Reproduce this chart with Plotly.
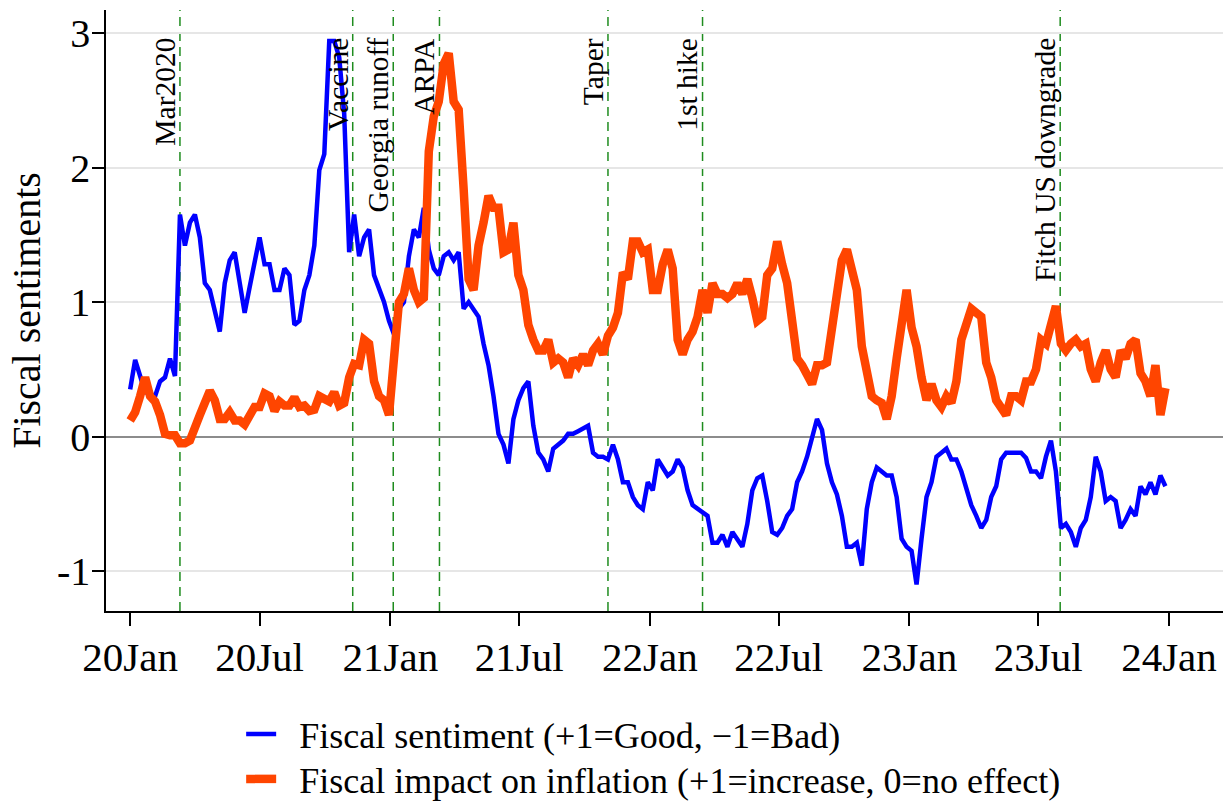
import pandas as pd
import plotly.graph_objects as go

# Weekly observations, first week starting 2020-01-01
dates = pd.date_range("2020-01-01", periods=209, freq="7D")

fiscal_sentiment = [
    0.35, 0.57, 0.45, 0.33, 0.32, 0.30, 0.41, 0.44, 0.58, 0.45,
    1.65, 1.42, 1.59, 1.65, 1.48, 1.14, 1.09, 0.92, 0.78, 1.14,
    1.31, 1.37, 1.14, 0.92, 1.11, 1.28, 1.48, 1.28, 1.28, 1.09,
    1.09, 1.25, 1.20, 0.83, 0.86, 1.09, 1.20, 1.42, 1.98, 2.10,
    2.94, 2.94, 2.82, 2.40, 1.37, 1.65, 1.34, 1.48, 1.54, 1.20,
    1.09,
    1.00, 0.86, 0.76, 0.95, 1.00, 1.34, 1.54, 1.48, 1.70, 1.39,
    1.25, 1.20, 1.34, 1.37, 1.31, 1.37, 0.95, 1.00, 0.95, 0.89,
    0.69, 0.53, 0.30, 0.02, -0.06, -0.20, 0.13, 0.27, 0.36, 0.41,
    0.08, -0.12, -0.17, -0.26, -0.09, -0.06, -0.03, 0.02, 0.02, 0.04,
    0.06, 0.08, -0.12, -0.15, -0.15, -0.17, -0.06, -0.17, -0.34, -0.34,
    -0.45,
    -0.51, -0.54, -0.34, -0.40, -0.17, -0.23, -0.29, -0.26, -0.17, -0.23,
    -0.40, -0.51, -0.54, -0.57, -0.59, -0.79, -0.79, -0.73, -0.82, -0.71,
    -0.76, -0.82, -0.65, -0.40, -0.31, -0.29, -0.48, -0.71, -0.73, -0.68,
    -0.59, -0.54, -0.34, -0.26, -0.15, -0.01, 0.13, 0.05, -0.20, -0.34,
    -0.43, -0.59, -0.82, -0.82, -0.79, -0.96, -0.54, -0.34, -0.23, -0.26,
    -0.29, -0.29,
    -0.45, -0.76, -0.82, -0.85, -1.10, -0.76, -0.45, -0.34, -0.15, -0.12,
    -0.09, -0.17, -0.17, -0.26, -0.40, -0.51, -0.59, -0.68, -0.62, -0.45,
    -0.37, -0.17, -0.12, -0.12, -0.12, -0.12, -0.16, -0.26, -0.26, -0.31,
    -0.15, -0.03, -0.26, -0.68, -0.65, -0.71, -0.82, -0.68, -0.62, -0.45,
    -0.15, -0.26, -0.48, -0.45, -0.48, -0.68, -0.62, -0.54, -0.59, -0.37,
    -0.43, -0.34, -0.43, -0.29, -0.37,
]

inflation_impact = [
    0.12, 0.18, 0.30, 0.44, 0.30, 0.26, 0.16, 0.02, 0.01, 0.01,
    -0.05, -0.05, -0.03, 0.05, 0.16, 0.25, 0.34, 0.27, 0.13, 0.13,
    0.18, 0.12, 0.12, 0.09, 0.16, 0.22, 0.22, 0.32, 0.30, 0.19,
    0.26, 0.23, 0.23, 0.29, 0.22, 0.23, 0.19, 0.20, 0.30, 0.27,
    0.26, 0.33, 0.23, 0.25, 0.44, 0.54, 0.53, 0.72, 0.69, 0.41,
    0.30,
    0.27, 0.16, 0.58, 1.00, 1.06, 1.25, 1.09, 1.00, 1.03, 2.12,
    2.38, 2.49, 2.77, 2.85, 2.49, 2.43, 1.84, 1.17, 1.09, 1.42,
    1.59, 1.79, 1.70, 1.70, 1.37, 1.39, 1.59, 1.20, 1.09, 0.83,
    0.72, 0.64, 0.64, 0.72, 0.55, 0.58, 0.55, 0.44, 0.58, 0.53,
    0.61, 0.53, 0.64, 0.69, 0.61, 0.75, 0.81, 0.92, 1.22, 1.17,
    1.45,
    1.45, 1.37, 1.39, 1.09, 1.09, 1.28, 1.39, 1.25, 0.72, 0.61,
    0.72, 0.78, 0.89, 1.09, 0.92, 1.14, 1.06, 1.06, 1.03, 1.06,
    1.14, 1.06, 1.17, 1.03, 0.86, 0.89, 1.20, 1.25, 1.45, 1.28,
    1.14, 0.86, 0.58, 0.53, 0.44, 0.39, 0.53, 0.53, 0.55, 0.81,
    0.97, 1.31, 1.39, 1.25, 1.09, 0.67, 0.47, 0.30, 0.27, 0.25,
    0.13, 0.30,
    0.58, 0.81, 1.09, 0.81, 0.67, 0.44, 0.27, 0.39, 0.27, 0.22,
    0.30, 0.25, 0.41, 0.72, 0.86, 0.95, 0.92, 0.89, 0.55, 0.44,
    0.27, 0.22, 0.16, 0.30, 0.30, 0.27, 0.41, 0.41, 0.50, 0.72,
    0.69, 0.83, 0.97, 0.69, 0.64, 0.69, 0.72, 0.67, 0.69, 0.50,
    0.41, 0.55, 0.64, 0.50, 0.44, 0.64, 0.58, 0.69, 0.72, 0.47,
    0.41, 0.30, 0.53, 0.16, 0.36,
]

event_labels = ["Mar2020", "Vaccine", "Georgia runoff", "ARPA",
                "Taper", "1st hike", "Fitch US downgrade"]
event_dates = ["2020-03-11", "2020-11-09", "2021-01-05", "2021-03-11",
               "2021-11-03", "2022-03-16", "2023-08-01"]

x_tick_dates = ["2020-01-01", "2020-07-01", "2021-01-01", "2021-07-01",
                "2022-01-01", "2022-07-01", "2023-01-01", "2023-07-01",
                "2024-01-01"]
x_tick_labels = ["20Jan", "20Jul", "21Jan", "21Jul", "22Jan", "22Jul",
                 "23Jan", "23Jul", "24Jan"]
y_tick_values = [-1, 0, 1, 2, 3]
y_tick_labels = ["-1", "0", "1", "2", "3"]

SERIF = "Liberation Serif, Times New Roman, serif"
GAP = "\u00a0\u00a0"  # extra room between legend swatch and label

fig = go.Figure()
fig.add_trace(go.Scatter(
    x=dates, y=fiscal_sentiment, mode="lines",
    name=GAP + "Fiscal sentiment (+1=Good, \u22121=Bad)",
    line=dict(color="#0000ff", width=4.5),
    legend="legend",
))
fig.add_trace(go.Scatter(
    x=dates, y=inflation_impact, mode="lines",
    name=GAP + "Fiscal impact on inflation (+1=increase, 0=no effect)",
    line=dict(color="#ff4500", width=8.5),
    legend="legend2",
))

for label, d in zip(event_labels, event_dates):
    fig.add_shape(type="line", xref="x", yref="paper", x0=d, x1=d, y0=0, y1=1,
                  line=dict(color="#1f8c1f", width=1.5, dash="9px,6px"),
                  layer="below")
    fig.add_annotation(x=d, y=2.98, xref="x", yref="y", text=label,
                       textangle=-90, showarrow=False,
                       xanchor="right", yanchor="top", xshift=3,
                       font=dict(family=SERIF, size=29.5, color="black"))

legend_style = dict(orientation="v", x=0.121, xanchor="left",
                    yanchor="middle", font=dict(family=SERIF, size=36),
                    bgcolor="rgba(0,0,0,0)", itemwidth=30)

fig.update_layout(
    width=1223, height=801,
    margin=dict(l=106, r=0, t=10, b=190, autoexpand=False),
    paper_bgcolor="white", plot_bgcolor="white",
    font=dict(family=SERIF, color="black"),
    showlegend=True,
    legend=dict(y=-0.2047, **legend_style),
    legend2=dict(y=-0.2795, **legend_style),
    xaxis=dict(type="date", range=["2019-11-28", "2024-03-17"],
               tickvals=x_tick_dates, ticktext=x_tick_labels,
               ticks="outside", ticklen=13, tickwidth=1.5, tickcolor="black",
               showline=True, linecolor="black", linewidth=1.5,
               showgrid=False, zeroline=False, ticklabelstandoff=-4,
               tickfont=dict(family=SERIF, size=41)),
    yaxis=dict(range=[-1.297, 3.171],
               tickvals=y_tick_values, ticktext=y_tick_labels,
               ticks="outside", ticklen=12, tickwidth=1.5, tickcolor="black",
               showline=True, linecolor="black", linewidth=1.5,
               showgrid=True, gridcolor="#e6e6e6", gridwidth=1.5,
               zeroline=True, zerolinecolor="#8c8c8c", zerolinewidth=2,
               ticklabelstandoff=-6,
               tickfont=dict(family=SERIF, size=40),
               title=dict(text="Fiscal sentiments",
                          font=dict(family=SERIF, size=40), standoff=4)),
)

fig.write_html("out.html")
